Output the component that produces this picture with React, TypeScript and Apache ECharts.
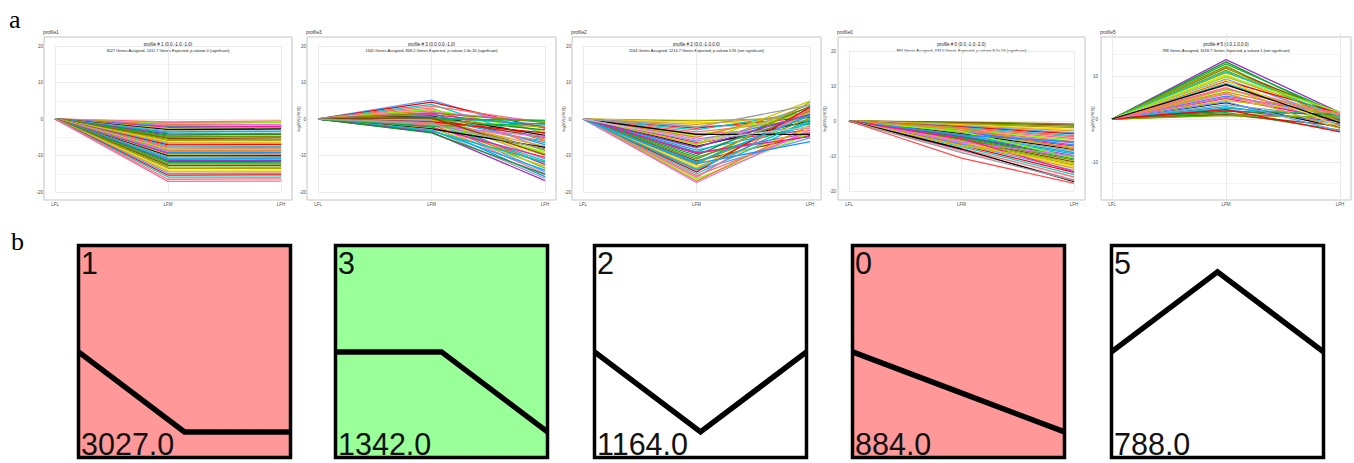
import React, { useEffect, useRef } from "react";
import * as echarts from "echarts";

// ---------- data ----------
const CATEGORIES = ["LFL", "LFM", "LFH"];
const PANEL_NAMES = ["profile1", "profile3", "profile2", "profile0", "profile5"];
const PROFILE_NUMBERS = ["1", "3", "2", "0", "5"];
const PROFILE_MODELS = [
  [0, -1, -1],
  [0, 0, -1],
  [0, -1, 0],
  [0, -1, -2],
  [0, 1, 0],
];
const PROFILE_TITLES = [
  "profile # 1 (0.0,-1.0,-1.0)",
  "profile # 3 (0.0,0.0,-1.0)",
  "profile # 2 (0.0,-1.0,0.0)",
  "profile # 0 (0.0,-1.0,-2.0)",
  "profile # 5 (0.0,1.0,0.0)",
];
const PROFILE_SUBTITLES = [
  "3027 Genes Assigned, 1411.7 Genes Expected, p-value= 0 (significant)",
  "1342 Genes Assigned, 868.2 Genes Expected, p-value= 2.4e-30 (significant)",
  "1164 Genes Assigned, 1214.7 Genes Expected, p-value= 0.91 (not significant)",
  "884 Genes Assigned, 433.0 Genes Expected, p-value= 8.7e-56 (significant)",
  "788 Genes Assigned, 1618.7 Genes Expected, p-value= 1 (not significant)",
];
const ASSIGNED_COUNTS = ["3027.0", "1342.0", "1164.0", "884.0", "788.0"];
const BOX_COLORS = ["#ff9999", "#99ff99", "#ffffff", "#ff9999", "#ffffff"];
const Y_AXIS_TITLE = "log2(V(i)/V(0))";

// [LFM, LFH] per gene line (LFL is always 0)
const PROFILE1_LINES = [
  [-0.8, -0.5], [-1.0, -0.9], [-1.3, -1.0], [-1.5, -1.6], [-1.8, -1.5], [-2.0, -2.2], [-2.3, -2.0],
  [-2.6, -2.8], [-2.9, -2.7], [-3.2, -3.5], [-3.5, -3.3], [-3.8, -4.0], [-4.1, -4.3], [-4.4, -4.2],
  [-4.7, -5.0], [-5.0, -4.8], [-5.3, -5.5], [-5.6, -5.8], [-5.9, -5.7], [-6.2, -6.3], [-6.5, -6.6],
  [-6.8, -6.9], [-7.1, -7.0], [-7.4, -7.5], [-7.7, -7.8], [-8.0, -8.1], [-8.3, -8.3], [-8.6, -8.7],
  [-8.9, -9.0], [-9.2, -9.2], [-9.5, -9.6], [-9.8, -9.9], [-10.1, -10.1], [-10.4, -10.5], [-10.7, -10.8],
  [-11.0, -11.0], [-11.3, -11.4], [-11.6, -11.7], [-11.9, -12.0], [-12.3, -12.3], [-12.7, -12.7],
  [-13.1, -13.2], [-13.5, -13.5], [-14.0, -14.0], [-14.4, -14.5], [-14.9, -14.9], [-15.4, -15.3],
  [-15.9, -15.9], [-16.5, -16.4], [-17.1, -17.0],
];
const PROFILE3_LINES = [
  [5.2, -4.0], [4.6, -2.5], [4.0, -6.0], [3.5, -1.0], [3.0, -8.0], [2.6, -3.5], [2.2, -5.5], [1.8, -0.6],
  [1.5, -7.0], [1.2, -2.0], [1.0, -9.5], [0.8, -4.5], [0.6, -11.0], [0.5, -1.5], [0.3, -6.5], [0.2, -12.5],
  [0.1, -3.0], [0.0, -0.4], [0.0, -8.5], [-0.1, -5.0], [-0.2, -13.5], [-0.3, -2.2], [-0.4, -10.0],
  [-0.5, -7.5], [-0.6, -14.5], [-0.8, -3.8], [-1.0, -11.5], [-1.1, -6.0], [-1.3, -15.0], [-1.5, -9.0],
  [-1.7, -12.0], [-1.9, -4.8], [-2.1, -15.8], [-2.3, -10.5], [-2.5, -13.0], [-2.7, -7.8], [-2.9, -16.3],
  [-3.1, -14.0], [-3.3, -11.8], [-3.6, -16.9], [-3.8, -15.2], [-2.0, -1.2], [1.6, -0.9], [0.4, -9.8],
  [-1.4, -8.2],
];
const PROFILE2_LINES = [
  [-0.5, 0.3], [-1.0, -0.8], [-1.5, 1.2], [-2.0, -1.5], [-2.5, 0.5], [-3.0, 2.0], [-3.5, -0.3], [-4.0, -2.5],
  [-4.5, 1.5], [-5.0, 3.0], [-5.5, -1.0], [-6.0, 0.8], [-6.5, -3.0], [-7.0, 2.5], [-7.5, -0.5], [-8.0, 4.0],
  [-8.5, -2.0], [-9.0, 1.0], [-9.5, -3.8], [-10.0, 3.5], [-10.5, -1.2], [-11.0, 2.2], [-11.5, -4.5],
  [-12.0, 0.2], [-12.5, 4.6], [-13.0, -2.8], [-13.5, 1.8], [-14.0, -5.2], [-14.5, 3.2], [-15.0, -0.8],
  [-15.5, -3.5], [-16.0, 2.8], [-16.5, -4.0], [-17.0, -1.8], [-17.4, -3.0], [-12.2, -6.2], [-9.2, -4.8],
  [-6.8, 4.9], [-4.2, -4.2], [-2.2, 3.8], [-11.8, 0.9], [-13.8, -0.3], [-7.8, 1.3], [-5.8, -2.2],
];
const PROFILE0_LINES = [
  [-0.3, -0.8], [-0.5, -1.2], [-0.7, -1.5], [-0.9, -1.9], [-1.1, -2.4], [-1.3, -2.8], [-1.5, -3.3],
  [-1.7, -3.7], [-1.9, -4.2], [-2.1, -4.5], [-2.3, -5.0], [-2.5, -5.4], [-2.7, -5.9], [-2.9, -6.3],
  [-3.1, -6.8], [-3.3, -7.2], [-3.5, -7.6], [-3.7, -8.1], [-3.9, -8.5], [-4.1, -9.0], [-4.3, -9.4],
  [-4.5, -9.9], [-4.7, -10.3], [-4.9, -10.8], [-5.1, -11.2], [-5.3, -11.7], [-5.5, -12.1], [-5.7, -12.6],
  [-5.9, -13.0], [-6.2, -13.5], [-6.5, -14.1], [-6.9, -14.7], [-7.3, -15.3], [-7.8, -16.0], [-8.4, -16.8],
  [-3.0, -10.5], [-2.0, -8.0], [-6.0, -10.0], [-4.0, -6.0], [-5.0, -14.5], [-7.0, -12.0], [-8.0, -17.3],
  [-9.0, -17.0], [-10.6, -17.8],
];
const PROFILE5_LINES = [
  [13.8, 1.5], [13.3, 0.5], [12.8, 1.2], [12.3, -0.5], [11.8, 1.0], [11.3, 0.2], [10.8, 1.4], [10.3, -1.0],
  [9.8, 0.8], [9.3, 0.0], [8.8, 1.3], [8.3, -0.3], [7.8, 0.6], [7.3, -1.5], [6.8, 1.1], [6.3, 0.3],
  [5.8, -0.8], [5.3, 0.9], [4.8, -0.2], [4.3, 1.2], [3.8, -2.0], [3.3, 0.4], [2.9, -1.2], [2.5, 0.7],
  [2.1, -0.6], [1.8, 1.0], [1.5, -2.6], [1.2, 0.2], [1.0, -1.6], [0.8, 0.5], [12.0, -0.8], [9.0, -1.8],
  [6.0, -2.2], [4.0, -2.8], [2.2, -3.0], [11.0, 0.5], [7.0, 0.9], [5.0, 1.5], [10.0, 1.6], [8.0, -0.9],
];
const PANEL_LINES = [PROFILE1_LINES, PROFILE3_LINES, PROFILE2_LINES, PROFILE0_LINES, PROFILE5_LINES];

const LINE_COLORS = [
  "#F8766D", "#C8C800", "#00BA38", "#619CFF", "#E76BF3", "#00BFC4", "#A3A500", "#FF67A4", "#000000",
  "#8B8B00", "#FF0000", "#1E90FF", "#9932CC", "#FFD700", "#7FFF00", "#A0A0A0", "#8B4513", "#00CED1",
  "#FF1493", "#228B22", "#DAA520", "#E7861B", "#00B0F6", "#6BB100",
];
// per-panel colour of the last (outermost) gene line
const LAST_LINE_COLOR = [null, "#a0a0a0", "#c0c0c0", "#ff5050", "#000000"];

// ---------- layout ----------
const FONT = "'Liberation Sans', Arial, sans-serif";
const A_LAYOUT = [
  { frameX: 44, frameW: 248, left: 55, width: 226, top: 46, height: 146, xMargin: 10, yMargin: 12, titleX: null, hideEdge: false },
  { frameX: 307, frameW: 249, left: 318, width: 227, top: 46, height: 146, xMargin: 10, yMargin: 12, titleX: 298, hideEdge: false },
  { frameX: 572, frameW: 249, left: 583, width: 227, top: 46, height: 146, xMargin: 10, yMargin: 12, titleX: 563, hideEdge: false },
  { frameX: 838, frameW: 247, left: 849, width: 225, top: 51, height: 140, xMargin: 11, yMargin: 13, titleX: 824, hideEdge: false },
  { frameX: 1101, frameW: 250, left: 1112, width: 228, top: 33, height: 172, xMargin: -3, yMargin: 14, titleX: 1092, hideEdge: true },
];
const FRAME_TOP = 37;
const FRAME_H = 163;
const B_BOX_X = [77, 334, 593, 851, 1110];
const B_TOP = 244;
const B_SIZE = 215;

function buildOption() {
  const grid: any[] = [];
  const xAxis: any[] = [];
  const yAxis: any[] = [];
  const series: any[] = [];
  const graphic: any[] = [];
  const major = "#e6e6e6";
  const minor = "#f2f2f2";

  A_LAYOUT.forEach((L, i) => {
    grid.push({ left: L.left, top: L.top, width: L.width, height: L.height, show: false });
    xAxis.push({
      type: "category",
      gridIndex: i,
      data: CATEGORIES,
      boundaryGap: false,
      axisLine: { show: false },
      axisTick: { show: false },
      axisLabel: { interval: 0, fontSize: 4.5, color: "#4d4d4d", margin: L.xMargin, fontFamily: FONT },
      splitLine: { show: true, lineStyle: { color: major, width: 0.8 } },
    });
    const splitColors = L.hideEdge
      ? ["rgba(0,0,0,0)", minor, major, minor, major, minor, major, minor, "rgba(0,0,0,0)"]
      : [major, minor, major, minor, major, minor, major, minor, major];
    yAxis.push({
      type: "value",
      gridIndex: i,
      min: -20,
      max: 20,
      interval: 5,
      axisLine: { show: false },
      axisTick: { show: false },
      axisLabel: {
        fontSize: 4.5,
        color: "#4d4d4d",
        margin: L.yMargin,
        fontFamily: FONT,
        formatter: (v: number) => (v % 10 === 0 && !(L.hideEdge && Math.abs(v) === 20) ? String(v) : ""),
      },
      splitLine: { show: true, lineStyle: { color: splitColors, width: 0.8 } },
    });
    const lines = PANEL_LINES[i];
    lines.forEach((pair, k) => {
      const isLast = k === lines.length - 1 && LAST_LINE_COLOR[i];
      series.push({
        type: "line",
        xAxisIndex: i,
        yAxisIndex: i,
        data: [0, pair[0], pair[1]],
        symbol: "none",
        silent: true,
        lineStyle: {
          width: 1.3,
          color: isLast ? LAST_LINE_COLOR[i] : LINE_COLORS[(k * 7 + i * 3) % LINE_COLORS.length],
        },
      });
    });
    // frame
    graphic.push({
      type: "rect",
      shape: { x: L.frameX, y: FRAME_TOP, width: L.frameW, height: FRAME_H },
      style: { fill: "none", stroke: "#c4c4c4", lineWidth: 1 },
      silent: true,
    });
    const cx = L.frameX + L.frameW / 2;
    graphic.push({
      type: "text",
      x: L.frameX - 1,
      y: 32,
      style: { text: PANEL_NAMES[i], fontSize: 4.8, fill: "#333", fontFamily: FONT, align: "left", verticalAlign: "middle" },
      silent: true,
    });
    graphic.push({
      type: "text",
      x: cx,
      y: 44.5,
      style: { text: PROFILE_TITLES[i], fontSize: 4.5, fill: "#222", fontFamily: FONT, align: "center", verticalAlign: "middle" },
      silent: true,
    });
    graphic.push({
      type: "text",
      x: cx,
      y: 50.7,
      style: { text: PROFILE_SUBTITLES[i], fontSize: 3.9, fill: "#222", fontFamily: FONT, align: "center", verticalAlign: "middle" },
      silent: true,
    });
    if (L.titleX !== null) {
      graphic.push({
        type: "text",
        x: L.titleX,
        y: 119,
        rotation: Math.PI / 2,
        style: { text: Y_AXIS_TITLE, fontSize: 4, fill: "#333", fontFamily: FONT, align: "center", verticalAlign: "middle" },
        silent: true,
      });
    }
  });

  B_BOX_X.forEach((bx, j) => {
    const idx = 5 + j;
    const model = PROFILE_MODELS[j];
    const s = Math.max(...model.map((v) => Math.abs(v)));
    grid.push({
      left: bx + 1.5,
      top: B_TOP + 1.5,
      width: B_SIZE - 3,
      height: B_SIZE - 3,
      show: true,
      backgroundColor: BOX_COLORS[j],
      borderColor: "#000",
      borderWidth: 3.5,
    });
    xAxis.push({ type: "category", gridIndex: idx, data: CATEGORIES, boundaryGap: false, show: false });
    yAxis.push({ type: "value", gridIndex: idx, min: -1.32 * s, max: 1.33 * s, show: false });
    series.push({
      type: "line",
      xAxisIndex: idx,
      yAxisIndex: idx,
      data: model,
      symbol: "none",
      silent: true,
      lineStyle: { width: 5.5, color: "#000", join: "miter" },
    });
    graphic.push({
      type: "text",
      x: bx + 4,
      y: 263,
      z: 10,
      style: { text: PROFILE_NUMBERS[j], fontSize: 30.5, fill: "#111", fontFamily: FONT, align: "left", verticalAlign: "middle" },
      silent: true,
    });
    graphic.push({
      type: "text",
      x: bx + 4,
      y: 444,
      z: 10,
      style: { text: ASSIGNED_COUNTS[j], fontSize: 30.5, fill: "#111", fontFamily: FONT, align: "left", verticalAlign: "middle" },
      silent: true,
    });
  });

  graphic.push({
    type: "text",
    x: 9,
    y: 19,
    style: { text: "a", fontSize: 26, fill: "#000", fontFamily: "'Liberation Serif', 'Times New Roman', serif", align: "left", verticalAlign: "middle" },
    silent: true,
  });
  graphic.push({
    type: "text",
    x: 11,
    y: 241,
    style: { text: "b", fontSize: 26, fill: "#000", fontFamily: "'Liberation Serif', 'Times New Roman', serif", align: "left", verticalAlign: "middle" },
    silent: true,
  });

  return {
    animation: false,
    backgroundColor: "#ffffff",
    grid,
    xAxis,
    yAxis,
    series,
    graphic,
  };
}

export default function App() {
  const ref = useRef<HTMLDivElement>(null);
  useEffect(() => {
    const chart = echarts.init(ref.current!, null, { renderer: "svg" });
    chart.setOption(buildOption() as any);
    return () => chart.dispose();
  }, []);
  return (
    <div
      ref={ref}
      style={{ position: "fixed", left: 0, top: 0, width: 1354, height: 463, background: "#fff" }}
    />
  );
}
